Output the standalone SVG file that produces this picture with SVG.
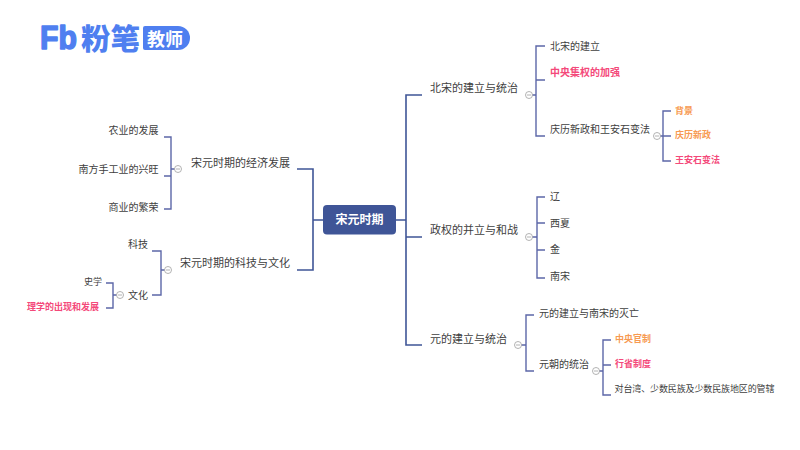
<svg xmlns="http://www.w3.org/2000/svg" width="800" height="450" viewBox="0 0 800 450">
<style>
text{font-family:"Noto Sans CJK SC","Noto Sans",sans-serif;fill:#404040;dominant-baseline:central}
.l1{font-size:11px}.l2{font-size:10px}.l3{font-size:9px}
.r{fill:#f4497a;font-weight:700}.o{fill:#f79a52;font-weight:700}
.e{text-anchor:end}
.m{fill:none;stroke:#3f5597;stroke-width:1.6}
.s{fill:none;stroke:#5c67a8;stroke-width:1.4}
.c{fill:#fff;stroke:#a0a0a0;stroke-width:.8}
.c2{stroke:#a0a0a0;stroke-width:.8}
</style>
<rect width="800" height="450" fill="#fff"/>
<g id="logo">
<text x="40" y="37" style="font-family:'Liberation Sans',sans-serif;font-size:33px;font-weight:700;fill:#4f7ff0;stroke:#4f7ff0;stroke-width:1.5;stroke-linejoin:round" textLength="37" lengthAdjust="spacingAndGlyphs">Fb</text>
<text x="81" y="37" style="font-size:29px;font-weight:900;fill:#4f7ff0" textLength="59" lengthAdjust="spacingAndGlyphs">粉笔</text>
<path d="M145 26H178A12 12 0 0 1 178 50H145A2 2 0 0 1 143 48V28A2 2 0 0 1 145 26Z" fill="#4f7ff0"/>
<text x="147" y="37.500" style="font-size:18px;font-weight:700;fill:#fff">教师</text>
</g>
<g id="connectors">
<path class="m" d="M396 220H406M422 95H406V345H422M406 237H422"/>
<path class="m" d="M323 220H313M297 169H313V270H297"/>
<path class="s" d="M532 95H536M545 46H536V136H545M536 80H545"/>
<path class="s" d="M660 136H663M671 111H663V161H671M663 136H671"/>
<path class="s" d="M532 237H537M545 197H537V278H545M537 223H545M537 250H545"/>
<path class="s" d="M521 345H526M534 315H526V371H534"/>
<path class="s" d="M599 371H603M611 340H603V395H611M603 365H611"/>
<path class="s" d="M175 169H171M164 137H171V209H164M164 176H171"/>
<path class="s" d="M165 270H161M152 251H161V295H152"/>
<path class="s" d="M117 295H113M106 283H113V308H106"/>
</g>
<g id="root"><rect x="323" y="205" width="73" height="29.500" rx="4" fill="#3f5597"/><text x="359.500" y="218" text-anchor="middle" style="font-size:12px;font-weight:700;fill:#fff">宋元时期</text></g>
<g id="n-beisong"><text class="l1" x="430" y="86.500">北宋的建立与统治</text><circle class="c" cx="529" cy="95" r="3.500"/><path class="c2" d="M527 95H531"/></g>
<g id="n-bs1"><text class="l2" x="550" y="45">北宋的建立</text></g>
<g id="n-bs2"><text class="l2 r" x="550" y="71.500">中央集权的加强</text></g>
<g id="n-bs3"><text class="l2" x="550" y="128.500">庆历新政和王安石变法</text><circle class="c" cx="657" cy="136" r="3.500"/><path class="c2" d="M655 136H659"/></g>
<g id="n-bs31"><text class="l3 o" x="675" y="110">背景</text></g>
<g id="n-bs32"><text class="l3 o" x="675" y="134.500">庆历新政</text></g>
<g id="n-bs33"><text class="l3 r" x="675" y="159.500">王安石变法</text></g>
<g id="n-zhengquan"><text class="l1" x="430" y="229">政权的并立与和战</text><circle class="c" cx="529" cy="237" r="3.500"/><path class="c2" d="M527 237H531"/></g>
<g id="n-zq1"><text class="l2" x="550" y="195">辽</text></g>
<g id="n-zq2"><text class="l2" x="550" y="222">西夏</text></g>
<g id="n-zq3"><text class="l2" x="550" y="248.500">金</text></g>
<g id="n-zq4"><text class="l2" x="550" y="275.500">南宋</text></g>
<g id="n-yuan"><text class="l1" x="430" y="337.500">元的建立与统治</text><circle class="c" cx="518" cy="345" r="3.500"/><path class="c2" d="M516 345H520"/></g>
<g id="n-y1"><text class="l2" x="539" y="312.500">元的建立与南宋的灭亡</text></g>
<g id="n-y2"><text class="l2" x="539" y="363.500">元朝的统治</text><circle class="c" cx="596" cy="371" r="3.500"/><path class="c2" d="M594 371H598"/></g>
<g id="n-y21"><text class="l3 o" x="615" y="338.500">中央官制</text></g>
<g id="n-y22"><text class="l3 r" x="615" y="363.500">行省制度</text></g>
<g id="n-y23"><text class="l3" x="614.500" y="388.500" textLength="160">对台湾、少数民族及少数民族地区的管辖</text></g>
<g id="n-jingji"><text class="l1" x="191" y="161.500">宋元时期的经济发展</text><circle class="c" cx="178" cy="169" r="3.500"/><path class="c2" d="M176 169H180"/></g>
<g id="n-jj1"><text class="l2 e" x="158.500" y="129.500">农业的发展</text></g>
<g id="n-jj2"><text class="l2 e" x="158.500" y="168.500">南方手工业的兴旺</text></g>
<g id="n-jj3"><text class="l2 e" x="158.500" y="206.500">商业的繁荣</text></g>
<g id="n-keji"><text class="l1" x="180" y="261.500">宋元时期的科技与文化</text><circle class="c" cx="168" cy="270" r="3.500"/><path class="c2" d="M166 270H170"/></g>
<g id="n-kj1"><text class="l2" x="128" y="243.500">科技</text></g>
<g id="n-kj2"><text class="l2" x="128" y="294">文化</text><circle class="c" cx="120" cy="295" r="3.500"/><path class="c2" d="M118 295H122"/></g>
<g id="n-kj21"><text class="l3" x="84" y="281.500">史学</text></g>
<g id="n-kj22"><text class="l3 r" x="27" y="306.500">理学的出现和发展</text></g>
</svg>
